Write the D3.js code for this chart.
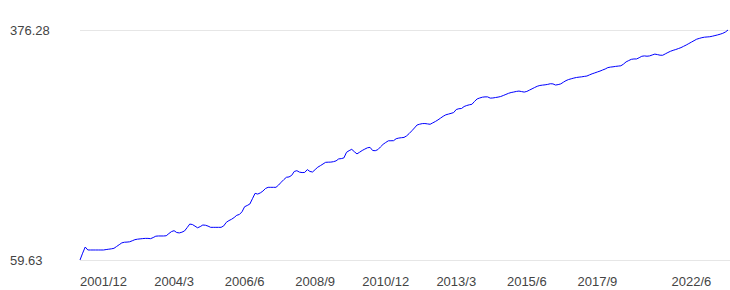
<!DOCTYPE html>
<html>
<head>
<meta charset="utf-8">
<script src="https://cdn.jsdelivr.net/npm/d3@7"></script>
<style>
  html, body { margin: 0; padding: 0; background: #fff; }
  svg { display: block; }
</style>
</head>
<body>
<div id="chart"></div>
<script>
// Categories (months shown on the category axis)
const months = [
  "2001/3","2001/4","2001/5","2001/6","2001/7","2001/8","2001/9","2001/10","2001/11","2001/12",
  "2002/1","2002/2","2002/3","2002/4","2002/5","2002/6","2002/7","2002/8","2002/9","2002/10","2002/11","2002/12",
  "2003/1","2003/2","2003/3","2003/4","2003/5","2003/6","2003/7","2003/8","2003/9","2003/10","2003/11","2003/12",
  "2004/1","2004/2","2004/3","2004/4","2004/5","2004/6","2004/7","2004/8","2004/9","2004/10","2004/11","2004/12",
  "2005/1","2005/2","2005/3","2005/4","2005/5","2005/6","2005/7","2005/8","2005/9","2005/10","2005/11","2005/12",
  "2006/1","2006/2","2006/3","2006/4","2006/5","2006/6","2006/7","2006/8","2006/9","2006/10","2006/11","2006/12",
  "2007/1","2007/2","2007/3","2007/4","2007/5","2007/6","2007/7","2007/8","2007/9","2007/10","2007/11","2007/12",
  "2008/1","2008/2","2008/3","2008/4","2008/5","2008/6","2008/7","2008/8","2008/9","2008/10","2008/11","2008/12",
  "2009/1","2009/2","2009/3","2009/4","2009/5","2009/6","2009/7","2009/8","2009/9","2009/10","2009/11","2009/12",
  "2010/1","2010/2","2010/3","2010/4","2010/5","2010/6","2010/7","2010/8","2010/9","2010/10","2010/11","2010/12",
  "2011/1","2011/2","2011/3","2011/4","2011/5","2011/6","2011/7","2011/8","2011/9","2011/10","2011/11","2011/12",
  "2012/1","2012/2","2012/3","2012/4","2012/5","2012/6","2012/7","2012/8","2012/9","2012/10","2012/11","2012/12",
  "2013/1","2013/2","2013/3","2013/4","2013/5","2013/6","2013/7","2013/8","2013/9","2013/10","2013/11","2013/12",
  "2014/1","2014/2","2014/3","2014/4","2014/5","2014/6","2014/7","2014/8","2014/9","2014/10","2014/11","2014/12",
  "2015/1","2015/2","2015/3","2015/4","2015/5","2015/6","2015/7","2015/8","2015/9","2015/10","2015/11","2015/12",
  "2016/1","2016/2","2016/3","2016/4","2016/5","2016/6","2016/7","2016/8","2016/9","2016/10","2016/11","2016/12",
  "2017/1","2017/2","2017/3","2017/4","2017/5","2017/6","2017/7","2017/8","2017/9","2017/10","2017/11","2017/12",
  "2018/1","2018/2","2018/3","2018/4","2018/5","2018/6","2018/7","2018/8","2018/9","2018/10","2018/11","2018/12",
  "2019/1","2019/2","2019/3","2019/4","2019/5","2019/6","2019/7","2019/8",
  "2021/6","2021/7","2021/8","2021/9","2021/10","2021/11","2021/12",
  "2022/1","2022/2","2022/3","2022/4","2022/5","2022/6","2022/7","2022/8","2022/9","2022/10","2022/11","2022/12",
  "2023/1","2023/2","2023/3","2023/4","2023/5","2023/6","2023/7","2023/8"
];

// Series values
const values = [
  59.63, 69.0, 77.5, 73.4, 73.4, 73.4, 73.4, 73.4, 73.4, 73.4,
  74.0, 74.5, 75.0, 75.7, 78.2, 80.7, 83.2, 84.1, 84.3, 84.7,
  86.1, 87.6, 88.3, 88.7, 89.1, 89.4, 89.4, 89.0, 90.5, 92.4,
  92.7, 92.7, 92.7, 93.0, 96.0, 98.7, 100.0, 97.5, 96.9, 97.9,
  99.6, 104.2, 109.1, 108.5, 106.3, 104.0, 105.6, 107.8, 107.5, 106.3,
  104.6, 104.6, 104.6, 104.6, 104.6, 106.6, 111.5, 113.9, 115.7, 118.1,
  121.2, 122.3, 126.0, 133.0, 134.7, 136.7, 144.0, 151.4, 150.4, 152.0,
  154.5, 158.1, 159.7, 159.7, 159.7, 159.7, 162.8, 166.7, 170.3, 173.5,
  174.0, 176.1, 181.5, 182.6, 180.6, 180.0, 180.2, 184.1, 181.5, 180.8,
  184.1, 187.4, 189.5, 191.8, 194.1, 194.3, 194.4, 195.0, 196.1, 198.8,
  199.2, 200.2, 207.9, 210.2, 212.0, 208.7, 205.7, 208.0, 210.4, 212.3,
  214.1, 214.7, 210.4, 210.1, 211.6, 215.3, 218.9, 221.4, 223.7, 223.8,
  223.9, 226.6, 227.5, 228.0, 228.4, 230.5, 233.8, 237.5, 241.4, 245.5,
  246.6, 247.4, 247.5, 247.0, 246.5, 248.4, 250.3, 252.5, 255.0, 257.5,
  259.5, 260.5, 261.5, 262.6, 266.8, 267.9, 268.2, 270.9, 272.3, 273.3,
  274.0, 278.0, 281.4, 282.7, 283.8, 284.2, 284.2, 282.5, 282.7, 283.3,
  283.9, 284.7, 286.1, 287.6, 289.1, 290.2, 290.9, 291.7, 292.2, 291.5,
  290.8, 291.7, 293.5, 295.3, 297.1, 298.8, 299.9, 300.4, 300.8, 301.4,
  302.3, 302.1, 300.5, 301.1, 302.1, 304.4, 306.6, 308.1, 309.1, 310.1,
  310.9, 311.4, 311.8, 312.4, 312.9, 314.5, 316.0, 317.2, 318.5, 319.7,
  321.2, 322.6, 324.5, 325.2, 325.6, 326.2, 326.6, 327.0, 329.3, 332.4,
  334.2, 335.9, 336.4, 336.4, 338.1, 340.1, 340.6, 340.2, 340.6, 341.9,
  343.1, 342.4, 341.6, 341.5, 343.4, 345.3, 347.0, 348.3, 349.4, 350.7,
  352.0, 353.8, 355.6, 357.6, 359.6, 361.6, 363.6, 364.7, 365.7, 366.4,
  366.7, 367.0, 367.7, 368.6, 369.5, 370.5, 371.7, 373.5, 376.28
];

// Tick labels
const xTickLabels = ["2001/12","2004/3","2006/6","2008/9","2010/12","2013/3","2015/6","2017/9","2022/6"];
const yTickValues = [59.63, 376.28];

const W = 730, H = 290;
const mLeft = 80, mRight = 728, mTop = 30, mBottom = 260;

const svg = d3.select("#chart").append("svg")
  .attr("width", W).attr("height", H)
  .style("background", "#fff");

const x = d3.scalePoint().domain(months).range([mLeft, mRight]).padding(0);
const y = d3.scaleLinear().domain([yTickValues[0], yTickValues[1]]).range([mBottom, mTop]);

// Horizontal grid lines
svg.append("g").selectAll("line").data(yTickValues).join("line")
  .attr("x1", mLeft).attr("x2", W)
  .attr("y1", d => Math.round(y(d)) + 0.5).attr("y2", d => Math.round(y(d)) + 0.5)
  .attr("stroke", "#e6e6e6").attr("stroke-width", 1);

// Y labels
svg.append("g").selectAll("text").data(yTickValues).join("text")
  .attr("x", 10).attr("y", d => y(d))
  .attr("dy", "0.35em")
  .attr("font-family", "Liberation Sans, Arial, sans-serif")
  .attr("font-size", 13).attr("fill", "#444")
  .text(d => d.toFixed(2));

// X labels
svg.append("g").selectAll("text").data(xTickLabels).join("text")
  .attr("x", d => x(d)).attr("y", 286)
  .attr("text-anchor", "middle")
  .attr("font-family", "Liberation Sans, Arial, sans-serif")
  .attr("font-size", 13).attr("fill", "#444")
  .text(d => d);

// Line
const data = months.map((m, i) => ({ m, v: values[i] }));
svg.append("path").datum(data)
  .attr("fill", "none").attr("stroke", "#0000ff").attr("stroke-width", 1)
  .attr("stroke-linejoin", "round")
  .attr("d", d3.line().x(d => x(d.m)).y(d => y(d.v)));
</script>
</body>
</html>
